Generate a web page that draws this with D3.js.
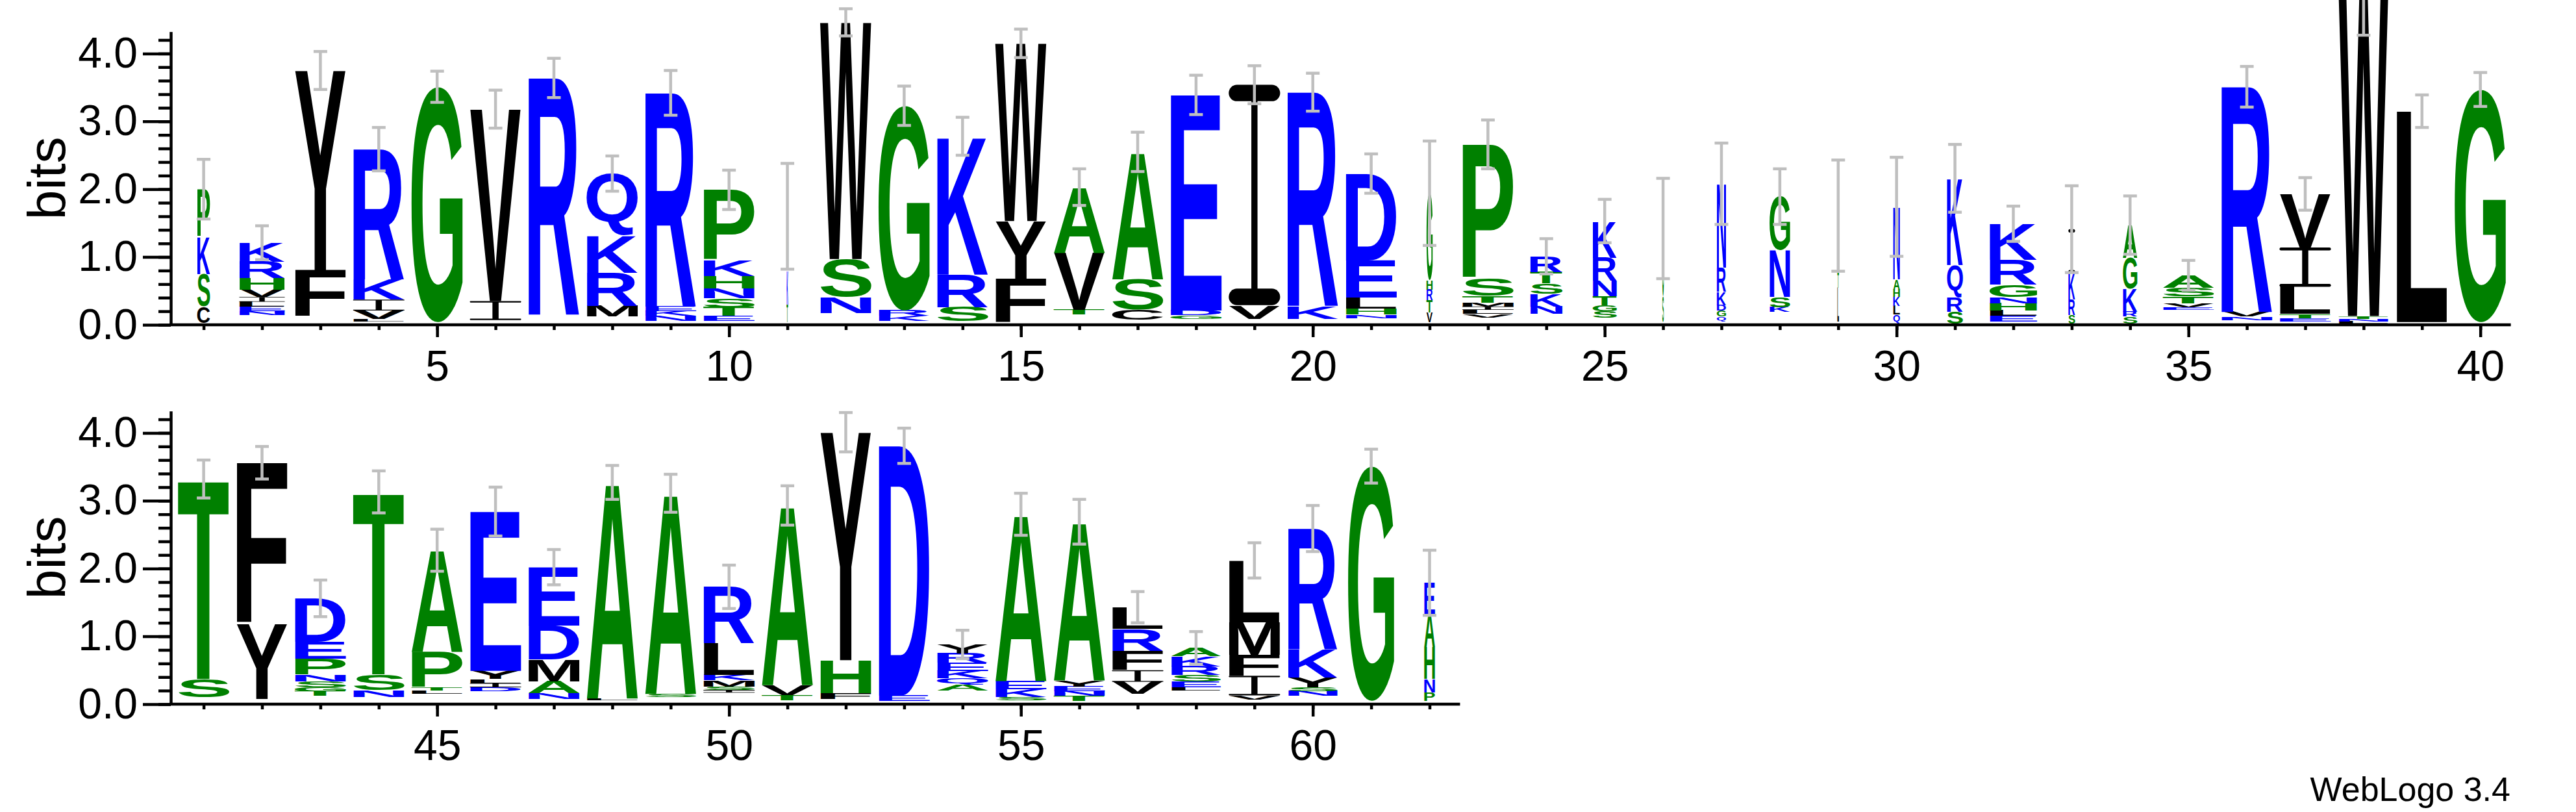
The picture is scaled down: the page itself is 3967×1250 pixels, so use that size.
<!DOCTYPE html>
<html>
<head>
<meta charset="utf-8">
<script src="https://cdn.jsdelivr.net/npm/d3@7"></script>
<style>
  body { margin: 0; background: #fff; }
  svg { display: block; }
</style>
</head>
<body>
<div id="chart"></div>
<script>
// Sequence logo (WebLogo style), positions 1-62.
// Letters of each stack are listed bottom -> top, heights in bits.
const positions = d3.range(1, 63);

const stackLetters = [
  "CSKP", "NELIVHRK", "FY", "LVIKR", "G", "IV", "R", "MRKQ", "NKER", "ETSNHKP",
  "TKG", "NSW", "KRG", "SRK", "FYW", "TVA", "CSA", "GDE", "VI", "KR",
  "NHLED", "VTRHG", "VLIMTSP", "NKSTR", "SGTNRK", "SG", "QGDKRN", "KSNG", "LTS", "QLKHAN",
  "SRQK", "ELHNGRK", "SRKI", "SRKGA", "EVTSA", "NVR", "ETLIV", "LNTW", "L", "G",
  "ST", "YF", "TGSNPED", "NST", "LTPA", "DILYE", "NAMDE", "LA", "SA", "ISMKLR",
  "TVA", "FHY", "ED", "AQKERY", "SKEA", "TNEYA", "VIFRL", "LESRKA", "VIFML", "NSYKR",
  "G", "PNHAE"
];

const stackHeights = [
  [.24, .48, .55, .70], [.06, .07, .07, .07, .11, .17, .24, .28], [.68, 2.95], [.04, .12, .16, .30, 1.92], [3.47],
  [.28, 2.83], [3.49], [.16, .49, .55, .91], [.07, .07, .07, 3.15], [.07, .13, .13, .15, .18, .24, 1.03],
  [.26, .5, .8], [.24, .56, 3.49], [.07, .08, 3.02], [.21, .48, 2.04], [.64, .85, 2.62],
  [.07, .84, .97], [.15, .45, 1.88], [.05, .07, 3.18], [.2, 3.25], [.19, 3.15],
  [.05, .09, .16, .55, 1.28], [.14, .18, .16, .14, 1.28], [.05, .06, .05, .06, .10, .25, 1.98], [.11, .19, .15, .17, .23], [.10, .09, .13, .23, .34, .54],
  [.38, 1.0], [.07, .09, .08, .2, .35, 1.24], [.07, .15, .69, .79], [.5, .22, .84], [.13, .13, .13, .11, .15, 1.07],
  [.17, .21, .48, 1.28], [.08, .08, .11, .09, .18, .37, .53], [.12, .23, .39, .65], [.1, .07, .34, .46, .48], [.04, .06, .1, .13, .18],
  [.05, .07, 3.32], [.05, .06, .40, .58, .79], [.03, .04, .04, 4.72], [3.11], [3.43],
  [.27, 2.95], [1.105, 2.38], [.07, .06, .09, .10, .23, .25, .64], [.1, .23, 2.69], [.05, .05, .52, 1.5],
  [.06, .06, .06, .12, 2.35], [.08, .18, .32, .5, .86], [.025, 3.185], [.05, 2.96], [.04, .05, .09, .08, .47, .83],
  [.07, .15, 2.65], [.08, .49, 3.36], [.08, 3.68], [.08, .1, .11, .12, .14, .13], [.05, .11, .12, 2.46],
  [.07, .07, .07, .09, 2.34], [.18, .17, .29, .32, .32], [.05, .08, .1, .13, .15, .12], [.06, .29, .31, .48, .91], [.07, .06, .14, .42, 1.78],
  [3.46], [.12, .2, .47, .48, .47]
];

// combined height of the letters too small to show, under each stack
const hiddenBase = [
  .03, .14, .12, .05, .04, .07, .15, .12, .06, .06,
  .04, .17, .06, .05, .04, .15, .07, .09, .09, .09,
  .10, .04, .11, .16, .10, .04, .05, .19, .05, .02,
  .02, .05, .02, .02, .22, .07, .05, .02, .04, .04,
  .10, .075, .12, .11, .15, .19, .08, .06, .10, .17,
  .06, .08, .05, .20, .06, .05, .15, .20, .07, .12,
  .05, .05
];

// half length of the error bar on each stack (bits)
const errorBars = [
  .44, .25, .28, .32, .23, .28, .29, .26, .33, .29,
  .78, .20, .29, .28, .21, .27, .29, .29, .28, .28,
  .29, .77, .36, .26, .32, .74, .60, .41, .82, .73,
  .50, .26, .64, .43, .22, .30, .24, .58, .24, .25,
  .28, .24, .27, .31, .31, .36, .26, .25, .28, .32,
  .29, .29, .26, .21, .31, .33, .23, .24, .26, .34,
  .25, .48
];

// fraction of sequences without a gap -> stack width
const stackWidths = [
  .25, .89, 1, 1, 1, 1, 1, 1, 1, 1,
  .03, 1, 1, 1, 1, 1, 1, 1, 1, 1,
  1, .12, 1, .63, .47, .03, .18, .40, .03, .13,
  .31, .93, .13, .28, 1, 1, 1, .97, 1, 1,
  1, 1, 1, 1, 1, 1, 1, 1, 1, 1,
  1, 1, 1, 1, 1, 1, 1, .97, 1, .97,
  .9, .21
];

const yTickValues = [0, 1, 2, 3, 4];
const xTickLabels = [5, 10, 15, 20, 25, 30, 35, 40, 45, 50, 55, 60];

// layout
const width = 3967, height = 1250;
const colW = 89.9, plotLeft = 268.65, axisX = 263, bitPx = 104.4;
const yMax = Math.log2(20);
const rows = [{ first: 1, last: 40, base: 500 }, { first: 41, last: 62, base: 1084 }];
const labelFont = "'Liberation Sans', Arial, sans-serif";

const colorOf = ch => "RKDENQ".includes(ch) ? "#0000ff"
  : "SGHTAP".includes(ch) ? "#008000" : "#000000";

const svg = d3.select('#chart')
  .append('svg')
  .attr('width', width)
  .attr('height', height);

svg.append('rect').attr('width', width).attr('height', height).attr('fill', '#fff');

// ink box of each glyph, so letters can be stretched to fill their cell
const ctx = document.createElement('canvas').getContext('2d');
ctx.font = "bold 100px 'Liberation Sans'";
const boxes = {};
function inkBox(ch) {
  if (!boxes[ch]) {
    const m = ctx.measureText(ch);
    boxes[ch] = { l: m.actualBoundingBoxLeft, r: m.actualBoundingBoxRight,
                  a: m.actualBoundingBoxAscent, d: m.actualBoundingBoxDescent };
  }
  return boxes[ch];
}

function drawGlyph(g, ch, x0, y0, w, h) {
  if (h < 0.4 || w < 0.4) return;
  const fill = colorOf(ch);
  if (ch === 'I') {
    // WebLogo's I has bars top and bottom
    const bh = Math.max(h * 0.075, 0.8), sw = Math.max(w * 0.12, 0.8);
    g.append('rect').attr('x', x0).attr('y', y0).attr('width', w).attr('height', bh)
      .attr('rx', Math.min(bh / 2, w / 4)).attr('fill', fill);
    g.append('rect').attr('x', x0).attr('y', y0 + h - bh).attr('width', w).attr('height', bh)
      .attr('rx', Math.min(bh / 2, w / 4)).attr('fill', fill);
    g.append('rect').attr('x', x0 + w / 2 - sw / 2).attr('y', y0 + bh / 2).attr('width', sw)
      .attr('height', h - bh).attr('fill', fill);
    return;
  }
  const b = inkBox(ch);
  const sx = w / (b.l + b.r), sy = h / (b.a + b.d);
  g.append('text')
    .attr('transform', `translate(${x0 + b.l * sx},${y0 + b.a * sy}) scale(${sx},${sy})`)
    .attr('font-family', "'Liberation Sans'")
    .attr('font-weight', 'bold')
    .attr('font-size', 100)
    .attr('fill', fill)
    .text(ch);
}

rows.forEach(row => {
  const x = d3.scaleLinear()
    .domain([row.first - 0.5, row.first + 39.5])
    .range([plotLeft, plotLeft + 40 * colW]);
  const y = d3.scaleLinear().domain([0, yMax]).range([row.base, row.base - yMax * bitPx]);
  const rowPos = positions.filter(p => p >= row.first && p <= row.last);
  const g = svg.append('g');

  // stacks
  rowPos.forEach(p => {
    const i = p - 1;
    const w = colW * 0.88 * stackWidths[i];
    const x0 = x(p) - w / 2;
    let cum = hiddenBase[i];
    stackLetters[i].split('').forEach((ch, k) => {
      const top = y(cum + stackHeights[i][k]), bot = y(cum);
      drawGlyph(g, ch, x0, top, w, bot - top);
      cum += stackHeights[i][k];
    });
    // error bar
    const eb = g.append('g').attr('stroke', '#bfbfbf').attr('stroke-width', 4.5);
    const yt = y(cum + errorBars[i]), yb = y(cum - errorBars[i]), xc = x(p);
    eb.append('line').attr('x1', xc).attr('x2', xc).attr('y1', yt).attr('y2', yb);
    eb.append('line').attr('x1', xc - 10.5).attr('x2', xc + 10.5).attr('y1', yt).attr('y2', yt);
    eb.append('line').attr('x1', xc - 10.5).attr('x2', xc + 10.5).attr('y1', yb).attr('y2', yb);
  });

  // y axis
  const yMinorAxis = d3.axisLeft(y).tickValues(d3.range(0, yMax, 0.2))
    .tickSize(19).tickSizeOuter(0).tickFormat('');
  const yMajorAxis = d3.axisLeft(y).tickValues(yTickValues)
    .tickSize(43).tickSizeOuter(0).tickPadding(8).tickFormat(d3.format('.1f'));
  const ya = svg.append('g').attr('transform', `translate(${axisX},0)`);
  ya.append('g').call(yMinorAxis);
  ya.append('g').call(yMajorAxis).select('.domain').remove();
  ya.selectAll('line, path').attr('stroke', '#000').attr('stroke-width', 4.5);
  ya.selectAll('text').attr('font-size', 66).attr('font-family', labelFont).attr('fill', '#000');

  // x axis
  const xMinorAxis = d3.axisBottom(x).tickValues(rowPos).tickSize(8).tickFormat('');
  const xMajorAxis = d3.axisBottom(x).tickValues(xTickLabels.filter(v => v >= row.first && v <= row.last))
    .tickSize(19).tickPadding(20).tickFormat(d => d);
  const xa = svg.append('g').attr('transform', `translate(0,${row.base})`);
  xa.append('g').call(xMinorAxis).select('.domain').remove();
  xa.append('g').call(xMajorAxis).select('.domain').remove();
  xa.append('line').attr('x1', axisX - 2).attr('x2', x(row.last + 0.5) + 2).attr('y1', 0).attr('y2', 0);
  xa.selectAll('line').attr('stroke', '#000').attr('stroke-width', 4.5);
  xa.selectAll('text').attr('font-size', 66).attr('font-family', labelFont).attr('fill', '#000');

  // axis title
  svg.append('text')
    .attr('transform', `translate(100,${row.base - yMax * bitPx / 2}) rotate(-90)`)
    .attr('text-anchor', 'middle')
    .attr('font-family', labelFont)
    .attr('font-size', 82)
    .text('bits');
});

svg.append('text')
  .attr('x', 3866).attr('y', 1233)
  .attr('text-anchor', 'end')
  .attr('font-family', labelFont)
  .attr('font-size', 52)
  .text('WebLogo 3.4');
</script>
</body>
</html>
